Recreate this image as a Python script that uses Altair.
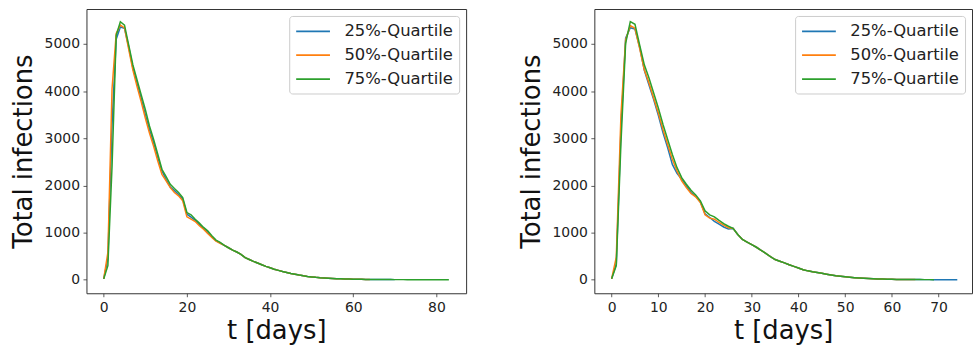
import altair as alt
import pandas as pd

SERIES = ["25%-Quartile", "50%-Quartile", "75%-Quartile"]
COLORS = ["#1f77b4", "#ff7f0e", "#2ca02c"]

# ---- left panel (t = 0 .. 28 heads, shared tail from t = 29) ----
left_q25_head = [20, 450, 3300, 5100, 5360, 5330, 4940, 4500, 4170, 3850, 3500, 3180, 2900, 2590,
                 2307, 2130, 1968, 1890, 1810, 1710, 1391, 1330, 1260, 1175, 1095, 1010, 910, 828, 780]
left_q50_head = [20, 580, 4050, 5220, 5400, 5340, 4890, 4450, 4100, 3780, 3430, 3110, 2830, 2520,
                 2236, 2095, 1954, 1850, 1780, 1673, 1334, 1285, 1236, 1145, 1074, 983, 900, 820, 775]
left_q75_head = [20, 300, 2400, 5180, 5470, 5400, 4980, 4560, 4240, 3925, 3610, 3260, 2975, 2660,
                 2342, 2187, 2025, 1934, 1849, 1744, 1426, 1377, 1285, 1201, 1110, 1039, 934, 842, 793]
left_tail = [730, 680, 630, 590, 540, 470, 430, 390, 355, 320, 285, 255, 225, 200, 175, 155, 135,
             118, 100, 85, 72, 62, 52, 44, 38, 32, 27, 23, 20, 17, 15, 13, 11, 10, 9, 8, 7, 6, 6,
             5, 5, 4, 4, 4, 3, 3, 3, 3, 2, 2, 2, 2, 2, 2, 2]
left_end = {"25%-Quartile": 70, "50%-Quartile": 64, "75%-Quartile": 83}

# ---- right panel (t = 0 .. 25 heads, shared tail from t = 26) ----
right_q25_head = [20, 337, 3200, 5120, 5344, 5316, 4930, 4440, 4130, 3820, 3488, 3115, 2799, 2447,
                  2257, 2130, 1990, 1850, 1770, 1650, 1400, 1320, 1240, 1180, 1120, 1075]
right_q50_head = [20, 478, 3500, 5084, 5387, 5330, 4908, 4452, 4170, 3854, 3537, 3185, 2869, 2553,
                  2306, 2095, 1954, 1828, 1758, 1638, 1377, 1307, 1285, 1215, 1160, 1105]
right_q75_head = [20, 302, 2900, 5013, 5471, 5415, 4979, 4557, 4276, 3959, 3643, 3291, 2975, 2658,
                  2377, 2166, 2025, 1898, 1800, 1673, 1462, 1377, 1335, 1260, 1190, 1135]
right_tail = [1090, 960, 855, 800, 745, 690, 625, 560, 490, 430, 395, 360, 320, 285, 250, 215, 190,
              170, 155, 138, 120, 104, 88, 75, 64, 54, 45, 37, 31, 26, 22, 18, 15, 13, 11, 9, 8, 7,
              6, 5, 5, 4, 4, 3, 3, 3, 2, 2, 2]
right_end = {"25%-Quartile": 74, "50%-Quartile": 65, "75%-Quartile": 69}

X_TICKS_LEFT = [0, 20, 40, 60, 80]
X_TICKS_RIGHT = [0, 10, 20, 30, 40, 50, 60, 70]
Y_TICKS = [0, 1000, 2000, 3000, 4000, 5000]


def build(heads, tail, ends):
    rows = []
    for name, head in zip(SERIES, heads):
        vals = (head + tail)[: ends[name] + 1]
        for t, v in enumerate(vals):
            rows.append({"t": t, "value": v, "series": name})
    return pd.DataFrame(rows)


df_left = build([left_q25_head, left_q50_head, left_q75_head], left_tail, left_end)
df_right = build([right_q25_head, right_q50_head, right_q75_head], right_tail, right_end)


def panel(df, xdom, xticks, width):
    color = alt.Color(
        "series:N",
        scale=alt.Scale(domain=SERIES, range=COLORS),
        legend=alt.Legend(title=None, orient="top-right", offset=7),
    )
    layers = []
    for name in SERIES:
        layers.append(
            alt.Chart(df[df["series"] == name])
            .mark_line(strokeWidth=1.5)
            .encode(
                x=alt.X("t:Q", scale=alt.Scale(domain=xdom, nice=False, zero=False),
                        axis=alt.Axis(values=xticks, title="t [days]", format="d")),
                y=alt.Y("value:Q", scale=alt.Scale(domain=[-285, 5740], nice=False, zero=False),
                        axis=alt.Axis(values=Y_TICKS, title="Total infections", format="d")),
                color=color,
            )
        )
    return alt.layer(*layers).properties(width=width, height=286)


left = panel(df_left, [-4.15, 87.15], X_TICKS_LEFT, 382)
right = panel(df_right, [-3.7, 77.15], X_TICKS_RIGHT, 380)

chart = (
    alt.hconcat(left, right, spacing=50)
    .resolve_legend(color="independent")
    .properties(padding={"left": 9, "top": 7, "right": 0, "bottom": 0})
    .configure(font="DejaVu Sans")
    .configure_view(stroke="#333333", strokeWidth=1)
    .configure_axis(
        grid=False,
        domain=False,
        tickColor="#333333",
        tickSize=3.5,
        tickWidth=0.8,
        labelPadding=3.5,
        labelFontSize=14,
        labelColor="#222222",
        titleFontSize=26,
        titleFontWeight="normal",
        titleColor="#111111",
        labelFont="DejaVu Sans",
        titleFont="DejaVu Sans",
    )
    .configure_axisY(titlePadding=8)
    .configure_axisX(titlePadding=4)
    .configure_legend(
        strokeColor="#cccccc",
        fillColor="white",
        cornerRadius=3,
        padding=6,
        labelFontSize=16.5,
        labelFont="DejaVu Sans",
        labelColor="#222222",
        symbolType="M-2,0H2",
        symbolStrokeWidth=1.8,
        symbolSize=289,
        symbolOffset=8.5,
        labelOffset=22,
        rowPadding=6,
    )
)

chart.save("out.html", embed_options={"renderer": "svg", "actions": False})
